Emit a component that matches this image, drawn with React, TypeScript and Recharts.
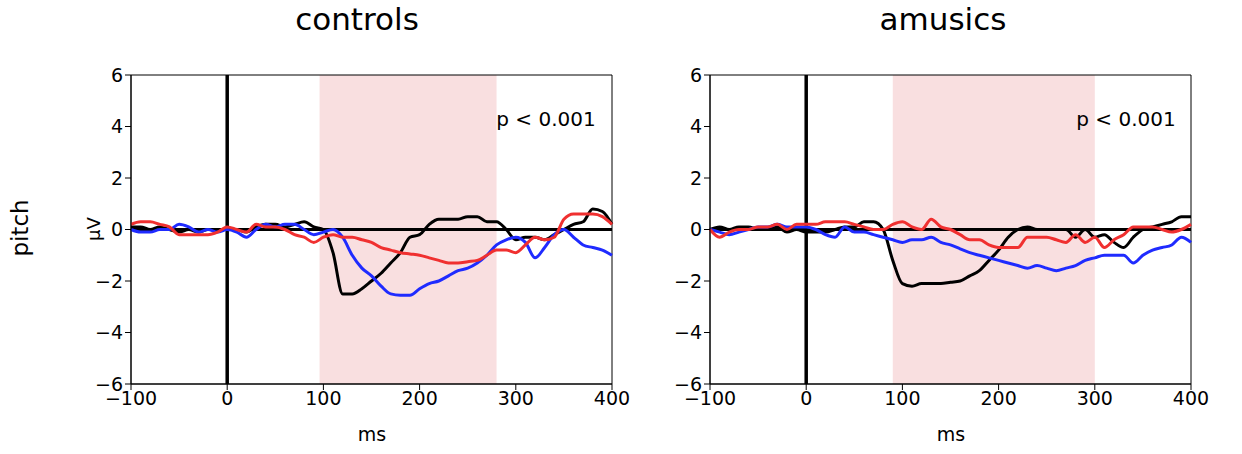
import React from 'react';
import {
	LineChart,
	Line,
	XAxis,
	YAxis,
	ReferenceArea,
	ReferenceLine,
} from 'recharts';

const times = Array.from({ length: 51 }, (_, i) => -100 + i * 10);
const xTicks = [-100, 0, 100, 200, 300, 400];
const yTicks = [-6, -4, -2, 0, 2, 4, 6];

// controls
const ctrlBlack = [0.1, 0.1, 0, 0.1, 0, -0.1, 0, -0.1, 0, 0, 0, 0, -0.1, 0.1, 0.2, 0.2, 0.1, 0.2, 0.3, 0.1, 0, -0.9, -2.5, -2.5, -2.3, -2, -1.7, -1.3, -0.9, -0.3, -0.2, 0.2, 0.4, 0.4, 0.4, 0.5, 0.5, 0.3, 0.3, 0, -0.4, -0.3, -0.3, -0.4, -0.2, 0, 0.2, 0.3, 0.8, 0.7, 0.2];
const ctrlBlue = [0, -0.1, -0.1, 0, 0, 0.2, 0.1, -0.1, 0, -0.1, 0, -0.1, -0.3, 0, 0.2, 0.1, 0.2, 0.2, 0, -0.2, -0.1, 0, -0.3, -1, -1.5, -1.8, -2.2, -2.5, -2.55, -2.55, -2.3, -2.1, -2, -1.8, -1.6, -1.5, -1.3, -1, -0.6, -0.4, -0.3, -0.5, -1.1, -0.7, -0.2, 0, -0.3, -0.6, -0.7, -0.8, -1];
const ctrlRed = [0.2, 0.3, 0.3, 0.2, 0.1, -0.2, -0.2, -0.2, -0.2, -0.1, 0.1, 0, -0.1, 0.2, 0.1, 0.1, 0, -0.2, -0.3, -0.5, -0.3, -0.2, -0.3, -0.3, -0.4, -0.5, -0.7, -0.8, -0.9, -0.95, -1, -1.1, -1.2, -1.3, -1.3, -1.25, -1.2, -1, -0.8, -0.8, -0.9, -0.6, -0.3, -0.4, -0.3, 0.4, 0.6, 0.6, 0.6, 0.5, 0.2];

// amusics
const amusBlack = [0, 0.1, 0, 0.1, 0.1, 0, 0, 0.1, -0.1, 0, -0.1, -0.1, -0.1, 0, 0.1, 0.1, 0.3, 0.3, 0, -1.2, -2.1, -2.2, -2.1, -2.1, -2.1, -2.05, -2, -1.8, -1.6, -1.2, -0.8, -0.3, 0, 0.1, 0, 0, 0, 0, -0.3, 0, -0.3, -0.2, -0.5, -0.7, -0.3, 0, 0.1, 0.2, 0.3, 0.5, 0.5];
const amusBlue = [0, -0.1, -0.2, -0.1, 0, 0.1, 0.1, 0.2, 0.1, 0.1, 0.1, 0, -0.2, -0.3, 0.1, -0.1, -0.1, -0.2, -0.3, -0.4, -0.5, -0.4, -0.4, -0.3, -0.5, -0.6, -0.75, -0.9, -1, -1.1, -1.2, -1.3, -1.4, -1.5, -1.4, -1.5, -1.6, -1.5, -1.4, -1.2, -1.1, -1, -1, -1, -1.3, -1, -0.8, -0.7, -0.6, -0.3, -0.5];
const amusRed = [0, -0.3, -0.1, 0, 0, 0.1, 0.1, 0.2, 0, 0.2, 0.2, 0.2, 0.3, 0.3, 0.3, 0.2, 0.1, 0, 0, 0.2, 0.3, 0.1, 0, 0.4, 0.1, 0, -0.2, -0.4, -0.4, -0.6, -0.7, -0.7, -0.7, -0.3, -0.3, -0.3, -0.4, -0.5, -0.2, -0.5, -0.3, -0.7, -0.4, -0.2, 0.1, 0.1, 0.1, 0, -0.1, 0, 0.2];

const build = (b: number[], bl: number[], r: number[]) =>
	times.map((t, i) => ({ t, black: b[i], blue: bl[i], red: r[i] }));

const fmt = (v: number) => String(v).replace('-', '\u2212');
const tickStyle = { fill: '#000', fontSize: 19 };

interface PanelProps {
	data: any[];
	left: number;
	width: number;
	margin: any;
	shadeFrom: number;
	shadeTo: number;
}

const Panel: React.FC<PanelProps> = ({ data, left, width, margin, shadeFrom, shadeTo }) => (
	<div style={{ position: 'absolute', left, top: 0 }}>
		<LineChart width={width} height={454} data={data} margin={margin}>
			<XAxis
				dataKey='t'
				type='number'
				domain={[-100, 400]}
				ticks={xTicks}
				tickFormatter={fmt}
				tick={tickStyle}
				stroke='#000'
				tickSize={6}
				interval={0}
			/>
			<YAxis
				type='number'
				domain={[-6, 6]}
				ticks={yTicks}
				tickFormatter={fmt}
				tick={tickStyle}
				stroke='#000'
				tickSize={6}
				width={60}
				interval={0}
			/>
			<ReferenceArea x1={shadeFrom} x2={shadeTo} y1={-6} y2={6} fill='#f9dfe0' fillOpacity={1} stroke='none' />
			<ReferenceLine y={0} stroke='#000' strokeWidth={3} />
			<ReferenceLine x={0} stroke='#000' strokeWidth={3.5} />
			<ReferenceArea x1={-100} x2={400} y1={-6} y2={6} fill='none' stroke='#000' strokeWidth={1} />
			<Line type='monotone' dataKey='black' stroke='#000' strokeWidth={3} dot={false} isAnimationActive={false} />
			<Line type='monotone' dataKey='blue' stroke='#1f2bff' strokeWidth={3} dot={false} isAnimationActive={false} />
			<Line type='monotone' dataKey='red' stroke='#f03030' strokeWidth={3} dot={false} isAnimationActive={false} />
		</LineChart>
	</div>
);

export default function App() {
	const text = (s: string, x: number, y: number, size: number, extra: any = {}) => (
		<div
			style={{
				position: 'absolute',
				left: x,
				top: y,
				fontSize: size,
				transform: 'translate(-50%, -50%)',
				whiteSpace: 'nowrap',
				...extra,
			}}
		>
			{s}
		</div>
	);
	return (
		<div
			style={{
				position: 'absolute',
				left: 0,
				top: 0,
				width: 1242,
				height: 454,
				background: '#fff',
				fontFamily: 'DejaVu Sans',
				overflow: 'hidden',
			}}
		>
			<Panel
				data={build(ctrlBlack, ctrlBlue, ctrlRed)}
				left={0}
				width={660}
				margin={{ top: 75, left: 71, right: 48, bottom: 40 }}
				shadeFrom={96}
				shadeTo={280}
			/>
			<Panel
				data={build(amusBlack, amusBlue, amusRed)}
				left={620}
				width={622}
				margin={{ top: 75, left: 30, right: 51, bottom: 40 }}
				shadeFrom={90}
				shadeTo={300}
			/>
			{text('controls', 357, 19, 31)}
			{text('amusics', 943, 19, 31)}
			{text('p < 0.001', 546, 119, 20)}
			{text('p < 0.001', 1126, 119, 20)}
			{text('ms', 372, 434, 19)}
			{text('ms', 951, 434, 19)}
			{text('\u03bcV', 93, 229, 18, { transform: 'translate(-50%, -50%) rotate(-90deg)' })}
			{text('pitch', 20, 228, 23, { transform: 'translate(-50%, -50%) rotate(-90deg)' })}
		</div>
	);
}
